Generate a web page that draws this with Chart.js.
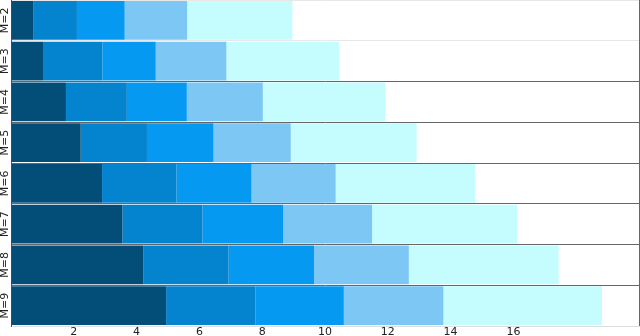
<!DOCTYPE html>
<html>
<head>
<meta charset="utf-8">
<script src="https://cdn.jsdelivr.net/npm/chart.js@4/dist/chart.umd.min.js"></script>
<style>
    html, body { margin: 0; padding: 0; background: #fff; }
    #wrap { width: 640px; height: 336px; }
</style>
</head>
<body>
<div id="wrap"><canvas id="stackChart"></canvas></div>
<script>
// --- Datos ---
const categories = ['M=2', 'M=3', 'M=4', 'M=5', 'M=6', 'M=7', 'M=8', 'M=9'];

const part1 = [0.72, 1.02, 1.75, 2.22, 2.90, 3.55, 4.21, 4.94];
const part2 = [1.38, 1.89, 1.94, 2.11, 2.37, 2.55, 2.72, 2.84];
const part3 = [1.52, 1.70, 1.91, 2.12, 2.39, 2.57, 2.72, 2.82];
const part4 = [1.99, 2.25, 2.42, 2.46, 2.68, 2.83, 3.02, 3.17];
const part5 = [3.35, 3.59, 3.91, 4.01, 4.44, 4.62, 4.77, 5.05];

const xTicks = [2, 4, 6, 8, 10, 12, 14, 16];

const colors = ['#024e79', '#0483cf', '#0699f1', '#7dc7f5', '#c5fdff'];

// --- Etiquetas verticales del eje Y ---
const yLabelPlugin = {
    id: 'yLabels',
    afterDraw(chart) {
        const y = chart.scales.y;
        const ctx = chart.ctx;
        ctx.save();
        ctx.font = '11px "DejaVu Sans"';
        ctx.fillStyle = '#222';
        ctx.textAlign = 'center';
        ctx.textBaseline = 'middle';
        categories.forEach((c, i) => {
            ctx.save();
            ctx.translate(5, y.getPixelForTick(i));
            ctx.rotate(-Math.PI / 2);
            ctx.fillText(c, 0, 0);
            ctx.restore();
        });
        ctx.restore();
    }
};

const parts = [part1, part2, part3, part4, part5];

new Chart(document.getElementById('stackChart'), {
    type: 'bar',
    data: {
        labels: categories,
        datasets: parts.map((p, i) => ({
            label: 'S' + (i + 1),
            data: p,
            backgroundColor: colors[i],
            borderWidth: 0,
            barPercentage: 0.95,
            categoryPercentage: 1.0
        }))
    },
    options: {
        indexAxis: 'y',
        responsive: true,
        maintainAspectRatio: false,
        animation: false,
        layout: { padding: { left: 0, top: 0, bottom: 0, right: 1 } },
        plugins: {
            legend: { display: false },
            tooltip: { enabled: false }
        },
        scales: {
            x: {
                stacked: true,
                min: 0,
                max: 20,
                afterFit: s => { s.height = 10; },
                ticks: {
                    stepSize: 2,
                    padding: 0,
                    color: '#222',
                    font: { family: 'DejaVu Sans', size: 11 },
                    callback: v => xTicks.includes(v) ? String(v) : ''
                },
                grid: {
                    drawTicks: false,
                    color: c => (c.tick && c.tick.value === 20) ? '#666' : 'rgba(0,0,0,0)'
                },
                border: { color: '#ddd' }
            },
            y: {
                stacked: true,
                afterFit: s => { s.width = 11; },
                ticks: { display: false },
                grid: {
                    drawTicks: false,
                    offset: true,
                    color: c => (c.index >= 2 && c.index <= 7) ? '#666' : '#e8e8e8'
                },
                border: { color: '#555' }
            }
        }
    },
    plugins: [yLabelPlugin]
});
</script>
</body>
</html>
